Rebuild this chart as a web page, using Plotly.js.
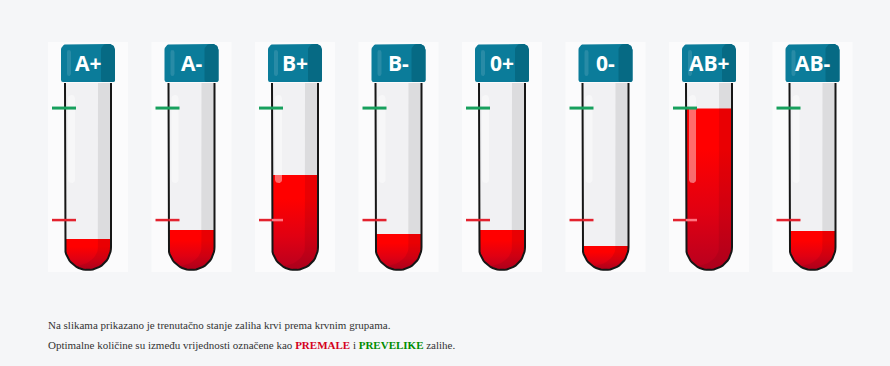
<!DOCTYPE html>
<html><head><meta charset="utf-8">
<script src="https://cdn.plot.ly/plotly-3.0.1.min.js"></script>
<style>html,body{margin:0;padding:0;background:#f5f6f8;}#chart{width:890px;height:366px;}</style>
</head><body><div id="chart"></div>
<script>
// ---- data ----
const groups = ['A+', 'A-', 'B+', 'B-', '0+', '0-', 'AB+', 'AB-'];
const levels = [16.6, 21.4, 50.8, 19.3, 21.4, 12.8, 86.4, 20.9];   // % of tube filled
const minLevels = [26.7, 26.7, 26.7, 26.7, 26.7, 26.7, 26.7, 26.7]; // "PREMALE" mark
const maxLevels = [86.6, 86.6, 86.6, 86.6, 86.6, 86.6, 86.6, 86.6]; // "PREVELIKE" mark
const note1 = 'Na slikama prikazano je trenutačno stanje zaliha krvi prema krvnim grupama.';
const note2 = 'Optimalne količine su između vrijednosti označene kao <b><span style="color:#d4001c">PREMALE</span></b> i <b><span style="color:#008c00">PREVELIKE</span></b> zalihe.';

// ---- geometry (pixel sizes converted to axis units) ----
const W = 890, H = 366;
const PX_X = 103.5;
const PX_Y = 1.87;
const X0 = -88 / PX_X, X1 = X0 + W / PX_X;
const Y1 = 270 / PX_Y, Y0 = Y1 - H / PX_Y;
const dx = p => p / PX_X;
const dy = p => p / PX_Y;
const TUBE_TOP = 100;
const R = 23;
const RX = dx(R), RY = dy(R);

function arcPts(cx, cy, rx, ry, a0, a1, n) {
  const pts = [];
  for (let k = 0; k <= n; k++) {
    const a = a0 + (a1 - a0) * k / n;
    pts.push([cx + rx * Math.cos(a), cy + ry * Math.sin(a)]);
  }
  return pts;
}
function clipBelow(poly, lvl) {
  const out = [];
  for (let k = 0; k < poly.length; k++) {
    const a = poly[k], b = poly[(k + 1) % poly.length];
    const ain = a[1] <= lvl, bin = b[1] <= lvl;
    if (ain) out.push(a);
    if (ain !== bin) {
      const t = (lvl - a[1]) / (b[1] - a[1]);
      out.push([a[0] + t * (b[0] - a[0]), lvl]);
    }
  }
  return out;
}
function roundRect(x0, x1, y0, y1, rTop, rBot) {
  const rtx = dx(rTop), rty = dy(rTop), rbx = dx(rBot), rby = dy(rBot);
  let p = [];
  p = p.concat(arcPts(x0 + rbx, y0 + rby, rbx, rby, Math.PI, 1.5 * Math.PI, 6));
  p = p.concat(arcPts(x1 - rbx, y0 + rby, rbx, rby, 1.5 * Math.PI, 2 * Math.PI, 6));
  p = p.concat(arcPts(x1 - rtx, y1 - rty, rtx, rty, 0, 0.5 * Math.PI, 8));
  p = p.concat(arcPts(x0 + rtx, y1 - rty, rtx, rty, 0.5 * Math.PI, Math.PI, 8));
  return p;
}
function poly(pts, color, extra) {
  const xs = pts.map(p => p[0]).concat([pts[0][0]]);
  const ys = pts.map(p => p[1]).concat([pts[0][1]]);
  return Object.assign({type: 'scatter', mode: 'lines', x: xs, y: ys, fill: 'toself',
    fillcolor: color, line: {width: 0, color: color}, hoverinfo: 'skip', showlegend: false}, extra || {});
}
function line(pts, color, width) {
  return {type: 'scatter', mode: 'lines', x: pts.map(p => p[0]), y: pts.map(p => p[1]),
    line: {color: color, width: width}, hoverinfo: 'skip', showlegend: false};
}

const traces = [];
const annotations = [];
const yPx = py => (270 - py) / PX_Y;

groups.forEach((g, i) => {
  const lvl = levels[i];
  traces.push(poly([[i - dx(40), yPx(272)], [i + dx(40), yPx(272)], [i + dx(40), yPx(42)], [i - dx(40), yPx(42)]], '#fbfbfc'));
  const body = [[i - RX, TUBE_TOP]].concat(arcPts(i, RY, RX, RY, Math.PI, 2 * Math.PI, 30)).concat([[i + RX, TUBE_TOP]]);
  traces.push(poly(body, '#f1f1f3'));
  const strip = [[i + dx(10), TUBE_TOP]]
    .concat(arcPts(i - dx(14), RY, dx(24), dy(19), 0, -0.5 * Math.PI, 12))
    .concat(arcPts(i, RY, RX, RY, -2.225, 0, 14))
    .concat([[i + RX, TUBE_TOP]]);
  traces.push(poly(strip, '#dcdcde'));
  const fillPoly = clipBelow(body, lvl);
  traces.push(poly(fillPoly, '#ee0010', {fillgradient: {type: 'vertical', colorscale: [[0, '#b8001f'], [0.35, '#e00012'], [0.75, '#ff0000'], [1, '#ff0000']]}}));
  const ds = clipBelow(strip, lvl);
  if (ds.length > 2) traces.push(poly(ds, 'rgba(110,0,20,0.15)'));
  traces.push(poly(roundRect(i - dx(20), i - dx(13), yPx(183), yPx(95), 3, 3), 'rgba(255,255,255,0.42)'));
  traces.push(line(body, '#161616', 2));
  traces.push(line([[i - dx(36), maxLevels[i]], [i - dx(12), maxLevels[i]]], '#17a05d', 3));
  traces.push(line([[i - dx(36), minLevels[i]], [i - dx(23), minLevels[i]]], '#e3222e', 2.5));
  traces.push(line([[i - dx(23), minLevels[i]], [i - dx(12), minLevels[i]]], lvl > minLevels[i] ? '#ff7480' : '#e3222e', 2.5));
  traces.push(poly(roundRect(i - dx(27), i + dx(27), yPx(82), yPx(44), 6, 2), '#0b7c9a'));
  traces.push(poly(roundRect(i + dx(13), i + dx(27), yPx(82), yPx(44), 6, 2), '#066a84'));
  traces.push(poly(roundRect(i - dx(21), i - dx(17), yPx(76), yPx(50), 2, 2), 'rgba(255,255,255,0.12)'));
  annotations.push({x: i, y: yPx(63), xref: 'x', yref: 'y', text: '<b>' + g + '</b>', showarrow: false,
    font: {family: 'Open Sans, sans-serif', size: 21, color: '#ffffff'}, xanchor: 'center', yanchor: 'middle'});
});

annotations.push({x: 46 / W, y: 1 - 325 / H, xref: 'paper', yref: 'paper', text: note1, showarrow: false,
  xanchor: 'left', yanchor: 'middle', font: {family: 'Liberation Serif, Times New Roman, serif', size: 11, color: '#333'}});
annotations.push({x: 46 / W, y: 1 - 345 / H, xref: 'paper', yref: 'paper', text: note2, showarrow: false,
  xanchor: 'left', yanchor: 'middle', font: {family: 'Liberation Serif, Times New Roman, serif', size: 11, color: '#333'}});

const layout = {
  width: W, height: H, margin: {l: 0, r: 0, t: 0, b: 0},
  paper_bgcolor: '#f5f6f8', plot_bgcolor: '#f5f6f8',
  xaxis: {range: [X0, X1], visible: false, fixedrange: true},
  yaxis: {range: [Y0, Y1], visible: false, fixedrange: true},
  showlegend: false, annotations: annotations, hovermode: false
};
Plotly.newPlot('chart', traces, layout, {displayModeBar: false, staticPlot: true});
</script></body></html>
